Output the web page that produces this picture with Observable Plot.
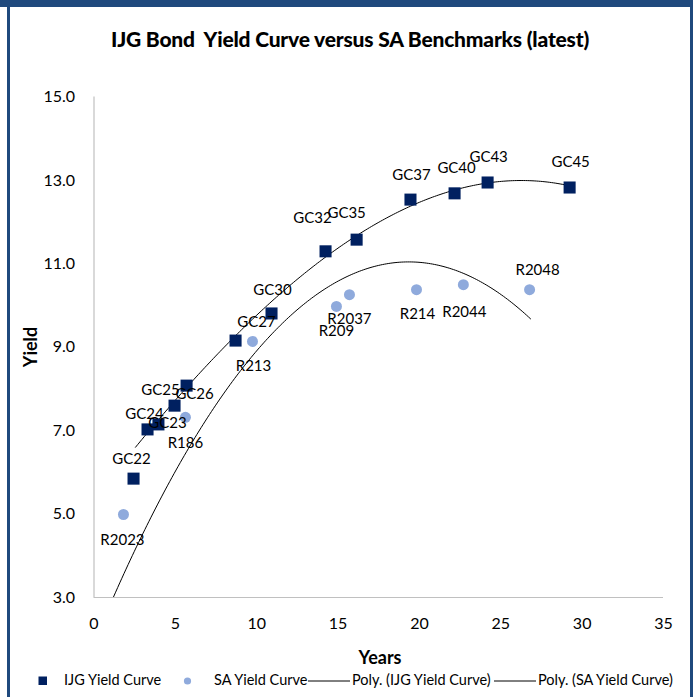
<!DOCTYPE html>
<html>
<head>
<meta charset="utf-8">
<script src="https://cdn.jsdelivr.net/npm/d3@7"></script>
<script src="https://cdn.jsdelivr.net/npm/@observablehq/plot@0.6"></script>
<style>
  html, body { margin: 0; padding: 0; background: #fff; }
  #frame { position: relative; width: 693px; height: 697px; overflow: hidden; font-family: Lato, "Open Sans", sans-serif; color: #000; background: #fff; }
  #topbar { position: absolute; left: 0; top: 0; width: 693px; height: 7px; background: #1F497D; }
  #leftbar { position: absolute; left: 7px; top: 0; width: 3px; height: 697px; background: #1F497D; }
  #rightbar { position: absolute; left: 690px; top: 0; width: 3px; height: 697px; background: #1F497D; }
  #title { position: absolute; left: 0; width: 700px; top: 26px; text-align: center; font-weight: 900; font-size: 21px; letter-spacing: -0.2px; }
  #chart { position: absolute; left: 0; top: 70px; }
  #ylab { position: absolute; left: 30px; top: 347px; transform: translate(-50%, -50%) rotate(-90deg); font-weight: bold; font-size: 18px; }
  #xlab { position: absolute; left: 380px; top: 657px; transform: translate(-50%, -50%); font-weight: bold; font-size: 18px; }
  .lg { position: absolute; top: 671px; font-size: 14.5px; white-space: nowrap; }
</style>
</head>
<body>
<div id="frame">
  <div id="topbar"></div><div id="leftbar"></div><div id="rightbar"></div>
  <div id="title">IJG Bond&nbsp; Yield Curve versus SA Benchmarks (latest)</div>
  <div id="chart"></div>
  <div id="ylab">Yield</div>
  <div id="xlab">Years</div>
  <div id="legend"></div>
</div>
<script>
// ---- data ----
const ijgLabels = ["GC22","GC23","GC24","GC25","GC26","GC27","GC30","GC32","GC35","GC37","GC40","GC43","GC45"];
const ijgYears  = [2.43, 3.29, 3.96, 4.95, 5.69, 8.70, 10.91, 14.23, 16.14, 19.45, 22.16, 24.19, 29.23];
const ijgYields = [5.85, 7.03, 7.15, 7.60, 8.08, 9.16, 9.81, 11.30, 11.58, 12.54, 12.69, 12.95, 12.83];

const saLabels = ["R2023","R186","R213","R209","R2037","R214","R2044","R2048"];
const saYears  = [1.81, 5.62, 9.74, 14.90, 15.70, 19.82, 22.70, 26.77];
const saYields = [4.99, 7.32, 9.14, 9.98, 10.26, 10.38, 10.50, 10.38];

// trendline positions ("Poly." trendlines)
const ijgTrendYears  = [2.55, 5.62, 8.70, 10.95, 14.43, 16.18, 19.66, 22.11, 24.17, 25.80, 27.85, 29.18];
const ijgTrendYields = [6.60, 8.04, 9.24, 10.04, 11.32, 11.68, 12.44, 12.72, 12.92, 13.00, 12.97, 12.88];
const saTrendYears   = [1.32, 3.17, 5.62, 8.70, 10.95, 14.54, 15.46, 16.58, 18.43, 20.68, 23.14, 25.19, 26.83];
const saTrendYields  = [3.04, 4.68, 6.36, 8.52, 9.48, 10.40, 10.60, 10.80, 10.98, 10.98, 10.64, 10.24, 9.76];

const xTicks = [0, 5, 10, 15, 20, 25, 30, 35];
const yTicks = [3, 5, 7, 9, 11, 13, 15];

// label offsets (pixels) as placed in the original chart
const labelOffsets = {
  GC22:[-2,-19], GC23:[20,-6], GC24:[-14,-10], GC25:[-14,-15], GC26:[8,9], GC27:[21,-18],
  GC30:[1,-23], GC32:[-13,-33], GC35:[-10,-26], GC37:[1,-24], GC40:[2,-25], GC43:[1,-25], GC45:[1,-25],
  R2023:[-1,26], R186:[0,26], R213:[1,25], R209:[0,25], R2037:[0,24], R214:[1,24], R2044:[1,27], R2048:[8,-20]
};

const NAVY = "#002060", LIGHT = "#8FAADC";

const ijg = ijgLabels.map((l, i) => ({label: l, x: ijgYears[i], y: ijgYields[i]}));
const sa = saLabels.map((l, i) => ({label: l, x: saYears[i], y: saYields[i]}));

// least-squares polynomial smoothing of the read trendline positions
function polyFit(xs, ys, order, x0, x1) {
  const n = order + 1;
  const A = Array.from({length: n}, () => new Array(n + 1).fill(0));
  xs.forEach((x, i) => {
    for (let r = 0; r < n; r++) {
      for (let c = 0; c < n; c++) A[r][c] += Math.pow(x, r + c);
      A[r][n] += ys[i] * Math.pow(x, r);
    }
  });
  for (let i = 0; i < n; i++) {
    let p = i;
    for (let j = i + 1; j < n; j++) if (Math.abs(A[j][i]) > Math.abs(A[p][i])) p = j;
    [A[i], A[p]] = [A[p], A[i]];
    for (let j = i + 1; j < n; j++) {
      const f = A[j][i] / A[i][i];
      for (let k = i; k <= n; k++) A[j][k] -= f * A[i][k];
    }
  }
  const c = new Array(n).fill(0);
  for (let i = n - 1; i >= 0; i--) {
    let s = A[i][n];
    for (let k = i + 1; k < n; k++) s -= A[i][k] * c[k];
    c[i] = s / A[i][i];
  }
  return d3.range(0, 201).map(t => {
    const x = x0 + (x1 - x0) * t / 200;
    return {x, y: c.reduce((acc, ck, k) => acc + ck * Math.pow(x, k), 0)};
  });
}
const ijgTrend = polyFit(ijgTrendYears, ijgTrendYields, 3, ijgTrendYears[0], ijgTrendYears[ijgTrendYears.length - 1]);
const saTrend = polyFit(saTrendYears, saTrendYields, 2, 1.2, saTrendYears[saTrendYears.length - 1]);

const labelMarks = [...ijg, ...sa].map(d => Plot.text([d], {
  x: "x", y: "y", text: "label", dx: labelOffsets[d.label][0], dy: labelOffsets[d.label][1],
  fontSize: 15, fill: "#000"
}));

const chart = Plot.plot({
  width: 693, height: 600,
  marginLeft: 93.5, marginRight: 30, marginTop: 26.5, marginBottom: 73,
  style: {fontFamily: "Lato, 'Open Sans', sans-serif", fontSize: "16px", color: "#000", background: "transparent"},
  x: {domain: [0, 35], ticks: xTicks, tickFormat: d3.format("d"), tickSize: 0, tickPadding: 20, label: null},
  y: {domain: [3, 15], ticks: yTicks, tickFormat: d3.format(".1f"), tickSize: 0, tickPadding: 19, label: null},
  marks: [
    Plot.ruleX([0], {stroke: "#c0c0c0", strokeWidth: 1.2}),
    Plot.ruleY([3], {stroke: "#c0c0c0", strokeWidth: 1.2}),
    Plot.line(ijgTrend, {x: "x", y: "y", stroke: "#000", strokeWidth: 1, clip: true}),
    Plot.line(saTrend, {x: "x", y: "y", stroke: "#000", strokeWidth: 1, clip: true}),
    Plot.dot(sa, {x: "x", y: "y", r: 5.5, fill: LIGHT, stroke: "none"}),
    Plot.dot(ijg, {x: "x", y: "y", symbol: "square", r: 6.8, fill: NAVY, stroke: "none"}),
    ...labelMarks
  ]
});
document.getElementById("chart").appendChild(chart);

// legend
const legend = document.getElementById("legend");
const items = [
  {kind: "square", x: 38, text: "IJG Yield Curve", tx: 64},
  {kind: "circle", x: 183, text: "SA Yield Curve", tx: 214},
  {kind: "line", x: 308, text: "Poly. (IJG Yield Curve)", tx: 352},
  {kind: "line", x: 494, text: "Poly. (SA Yield Curve)", tx: 538}
];
for (const it of items) {
  const sym = document.createElementNS("http://www.w3.org/2000/svg", "svg");
  sym.setAttribute("width", it.kind === "line" ? 44 : 10);
  sym.setAttribute("height", 10);
  sym.style.position = "absolute"; sym.style.left = it.x + "px"; sym.style.top = "676px";
  if (it.kind === "square") sym.innerHTML = `<rect x="0.5" y="0.5" width="8.5" height="8.5" fill="${NAVY}"/>`;
  else if (it.kind === "circle") sym.innerHTML = `<circle cx="4.5" cy="5" r="3.6" fill="${LIGHT}"/>`;
  else sym.innerHTML = `<line x1="0" x2="42" y1="5" y2="5" stroke="#000" stroke-width="1"/>`;
  legend.appendChild(sym);
  const t = document.createElement("div");
  t.className = "lg"; t.style.left = it.tx + "px"; t.textContent = it.text;
  legend.appendChild(t);
}
</script>
</body>
</html>
